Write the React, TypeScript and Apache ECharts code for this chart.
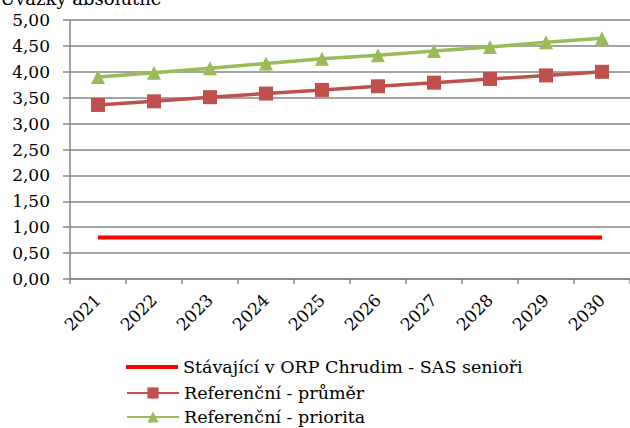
import React, { useEffect, useRef } from "react";
import * as echarts from "echarts";

const years = ["2021", "2022", "2023", "2024", "2025", "2026", "2027", "2028", "2029", "2030"];
const stavajici = [0.8, 0.8, 0.8, 0.8, 0.8, 0.8, 0.8, 0.8, 0.8, 0.8];
const prumer = [3.36, 3.43, 3.51, 3.58, 3.65, 3.72, 3.79, 3.86, 3.93, 4.0];
const priorita = [3.9, 3.98, 4.07, 4.16, 4.25, 4.32, 4.4, 4.48, 4.57, 4.65];
const seriesNames = ["Stávající v ORP Chrudim - SAS senioři", "Referenční - průměr", "Referenční - priorita"];
const yTitle = "Úvazky absolutně";

const FONT = "DejaVu Serif";

export default function App() {
  const ref = useRef<HTMLDivElement>(null);
  useEffect(() => {
    const chart = echarts.init(ref.current!, null, { renderer: "svg" });
    const legendText = { fontFamily: FONT, fontSize: 17.5, color: "#000" };
    chart.setOption({
      animation: false,
      backgroundColor: "#ffffff",
      textStyle: { fontFamily: FONT },
      graphic: [
        {
          type: "text",
          left: 0,
          top: -11,
          style: { text: yTitle, fontFamily: FONT, fontSize: 18, fill: "#000" },
        },
      ],
      grid: { left: 70, top: 20, bottom: 149, right: -10, containLabel: false },
      xAxis: {
        type: "category",
        data: years,
        boundaryGap: true,
        axisLine: { lineStyle: { color: "#868686", width: 1.5 } },
        axisTick: { show: true, length: 5, lineStyle: { color: "#868686", width: 1.5 } },
        axisLabel: { rotate: 45, fontFamily: FONT, fontSize: 17, color: "#000", margin: 18, interval: 0 },
      },
      yAxis: {
        type: "value",
        min: 0,
        max: 5,
        interval: 0.5,
        axisLine: { show: true, lineStyle: { color: "#868686", width: 1.5 } },
        axisTick: { show: true, length: 7, lineStyle: { color: "#868686", width: 1.5 } },
        splitLine: { lineStyle: { color: "#868686", width: 1.5 } },
        axisLabel: {
          fontFamily: FONT,
          fontSize: 17,
          color: "#000",
          margin: 20,
          formatter: (v: number) => v.toFixed(2).replace(".", ","),
        },
      },
      legend: [
        {
          left: 126,
          top: 358,
          padding: 0,
          itemWidth: 52,
          itemHeight: 4,
          icon: "rect",
          textStyle: legendText,
          data: [seriesNames[0]],
        },
        {
          left: 126,
          top: 384,
          padding: 0,
          itemWidth: 52,
          itemHeight: 14,
          textStyle: legendText,
          data: [seriesNames[1]],
        },
        {
          left: 126,
          top: 408,
          padding: 0,
          itemWidth: 52,
          itemHeight: 14,
          textStyle: legendText,
          data: [seriesNames[2]],
        },
      ],
      series: [
        {
          name: seriesNames[0],
          type: "line",
          data: stavajici,
          symbol: "none",
          lineStyle: { color: "#FF0000", width: 4 },
          itemStyle: { color: "#FF0000" },
        },
        {
          name: seriesNames[1],
          type: "line",
          data: prumer,
          symbol: "rect",
          symbolSize: 14,
          lineStyle: { color: "#C0504D", width: 3.5 },
          itemStyle: { color: "#C0504D" },
        },
        {
          name: seriesNames[2],
          type: "line",
          data: priorita,
          symbol: "triangle",
          symbolSize: 14,
          lineStyle: { color: "#9BBB59", width: 3.5 },
          itemStyle: { color: "#9BBB59" },
        },
      ],
    });
    return () => chart.dispose();
  }, []);
  return <div ref={ref} style={{ width: 630, height: 428, position: "absolute", left: 0, top: 0 }} />;
}
